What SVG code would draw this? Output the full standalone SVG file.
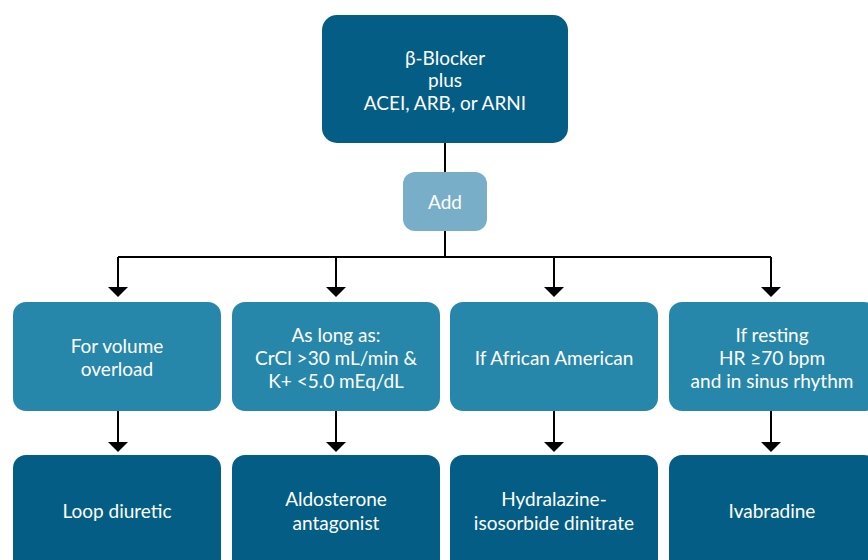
<svg xmlns="http://www.w3.org/2000/svg" width="868" height="560" viewBox="0 0 868 560">
<style>
.dark{fill:#035d84}
.mid{fill:#2787aa}
.light{fill:#79aec9}
text{font-family:Lato,"Open Sans","Liberation Sans",sans-serif;font-size:19px;fill:#ffffff;text-anchor:middle}
.conn{stroke:#000;stroke-width:2;fill:none}
</style>
<g id="connectors">
<path class="conn" d="M445 143 V172"/>
<path class="conn" d="M445 231 V257"/>
<path class="conn" d="M118 257 H771"/>
<path class="conn" d="M118 257 V287"/>
<path class="conn" d="M336 257 V287"/>
<path class="conn" d="M554 257 V287"/>
<path class="conn" d="M771 257 V287"/>
<path d="M108 287 L128 287 L118 297 Z"/>
<path d="M326 287 L346 287 L336 297 Z"/>
<path d="M544 287 L564 287 L554 297 Z"/>
<path d="M761 287 L781 287 L771 297 Z"/>
<path class="conn" d="M118 411 V442"/>
<path class="conn" d="M336 411 V442"/>
<path class="conn" d="M554 411 V442"/>
<path class="conn" d="M771 411 V442"/>
<path d="M108 442 L128 442 L118 452 Z"/>
<path d="M326 442 L346 442 L336 452 Z"/>
<path d="M544 442 L564 442 L554 452 Z"/>
<path d="M761 442 L781 442 L771 452 Z"/>
</g>
<g id="start">
<rect class="dark" x="322" y="15" width="246" height="128" rx="15"/>
<text x="445" y="65">β-Blocker</text>
<text x="445" y="87">plus</text>
<text x="445" y="110">ACEI, ARB, or ARNI</text>
</g>
<g id="add">
<rect class="light" x="403" y="172" width="84" height="59" rx="12"/>
<text x="445" y="209">Add</text>
</g>
<g id="c1">
<rect class="mid" x="13" y="302" width="208" height="109" rx="13"/>
<text x="117" y="353">For volume</text>
<text x="117" y="376">overload</text>
</g>
<g id="c2">
<rect class="mid" x="232" y="302" width="208" height="109" rx="13"/>
<text x="336" y="342">As long as:</text>
<text x="336" y="365">CrCl &gt;30 mL/min &amp;</text>
<text x="336" y="388">K+ &lt;5.0 mEq/dL</text>
</g>
<g id="c3">
<rect class="mid" x="450" y="302" width="208" height="109" rx="13"/>
<text x="554" y="365">If African American</text>
</g>
<g id="c4">
<rect class="mid" x="669" y="302" width="208" height="109" rx="13"/>
<text x="772" y="342">If resting</text>
<text x="772" y="365">HR ≥70 bpm</text>
<text x="772" y="388">and in sinus rhythm</text>
</g>
<g id="r1">
<rect class="dark" x="13" y="455" width="208" height="120" rx="13"/>
<text x="117" y="518">Loop diuretic</text>
</g>
<g id="r2">
<rect class="dark" x="232" y="455" width="208" height="120" rx="13"/>
<text x="336" y="506">Aldosterone</text>
<text x="336" y="530">antagonist</text>
</g>
<g id="r3">
<rect class="dark" x="450" y="455" width="208" height="120" rx="13"/>
<text x="554" y="506">Hydralazine-</text>
<text x="554" y="530">isosorbide dinitrate</text>
</g>
<g id="r4">
<rect class="dark" x="669" y="455" width="208" height="120" rx="13"/>
<text x="772" y="518">Ivabradine</text>
</g>
</svg>
